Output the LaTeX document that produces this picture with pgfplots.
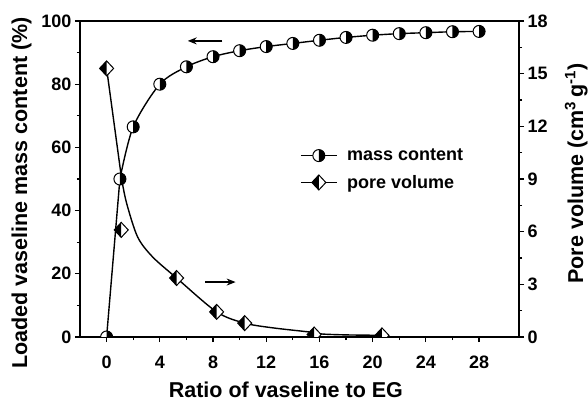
\documentclass[border=0pt]{standalone}
\usepackage{fontspec}
\setmainfont{Liberation Sans}
\usepackage{pgfplots}
\usepackage{pgfplotstable}
\pgfplotsset{compat=1.18}
\usetikzlibrary{arrows.meta}

% circle: left half white, right half black
\pgfdeclareplotmark{hcirc}{%
  \pgfscope
  \pgfsetfillcolor{white}%
  \pgfpathcircle{\pgfpointorigin}{\pgfplotmarksize}%
  \pgfusepathqfill
  \pgfsetfillcolor{black}%
  \pgfpathmoveto{\pgfqpoint{0pt}{\pgfplotmarksize}}%
  \pgfpatharc{90}{-90}{\pgfplotmarksize}%
  \pgfpathclose
  \pgfusepathqfill
  \pgfpathcircle{\pgfpointorigin}{\pgfplotmarksize}%
  \pgfusepathqstroke
  \endpgfscope
}
% diamond: left half black, right half white
\pgfdeclareplotmark{hdiam}{%
  \pgfscope
  \pgfsetfillcolor{white}%
  \pgfpathmoveto{\pgfqpoint{0pt}{1.07\pgfplotmarksize}}%
  \pgfpathlineto{\pgfqpoint{\pgfplotmarksize}{0pt}}%
  \pgfpathlineto{\pgfqpoint{0pt}{-1.07\pgfplotmarksize}}%
  \pgfpathlineto{\pgfqpoint{-\pgfplotmarksize}{0pt}}%
  \pgfpathclose
  \pgfusepathqfill
  \pgfsetfillcolor{black}%
  \pgfpathmoveto{\pgfqpoint{0pt}{1.07\pgfplotmarksize}}%
  \pgfpathlineto{\pgfqpoint{-\pgfplotmarksize}{0pt}}%
  \pgfpathlineto{\pgfqpoint{0pt}{-1.07\pgfplotmarksize}}%
  \pgfpathclose
  \pgfusepathqfill
  \pgfpathmoveto{\pgfqpoint{0pt}{1.07\pgfplotmarksize}}%
  \pgfpathlineto{\pgfqpoint{\pgfplotmarksize}{0pt}}%
  \pgfpathlineto{\pgfqpoint{0pt}{-1.07\pgfplotmarksize}}%
  \pgfpathlineto{\pgfqpoint{-\pgfplotmarksize}{0pt}}%
  \pgfpathclose
  \pgfusepathqstroke
  \endpgfscope
}

\pgfplotstableread{
x y
0 0
1 50.0
2 66.5
4 80.0
6 85.5
8 88.7
10 90.6
12 91.9
14 92.9
16 93.9
18 94.8
20 95.5
22 96.0
24 96.3
26 96.6
28 96.7
}\masstable

\pgfplotstableread{
x y
0 15.3
1.1 6.1
5.26 3.36
8.27 1.43
10.38 0.79
15.6 0.14
20.7 0.09
}\poretable

\pgfplotsset{
  common/.style={
    at={(0pt,0pt)}, anchor=south west,
    scale only axis, width=439pt, height=316pt,
    xmin=-2, xmax=31,
    tick align=outside,
    major tick length=5pt, minor tick length=3pt,
    tick style={line width=1.2pt, black},
    axis line style={line width=1.3pt},
    clip marker paths=true,
    /pgf/number format/assume math mode=true,
    tick label style={font=\bfseries\fontsize{18}{20}\selectfont, inner sep=0pt},
    label style={font=\bfseries\fontsize{21.5}{24}\selectfont},
  }
}

\begin{document}
\begin{tikzpicture}
\begin{axis}[common,
  ymin=0, ymax=100,
  xtick={0,4,...,28}, minor x tick num=1,
  ytick={0,20,...,100}, minor y tick num=1,
  xtick pos=bottom, ytick pos=left,
  xticklabel style={anchor=north, yshift=-14pt},
  yticklabel style={anchor=east, xshift=-3.5pt},
  xlabel={Ratio of vaseline to EG},
  xlabel style={at={(axis description cs:0.469,0)}, anchor=base, yshift=-60pt},
  ylabel={Loaded vaseline mass content (\%)},
  ylabel style={at={(axis description cs:-0.1207,0.456)}, anchor=base, rotate=0},
]
\addplot[line width=1.4pt, black, sharp plot] coordinates {(0,0) (1,50)};
\addplot[line width=1.4pt, black, smooth] table[x=x,y=y, skip coords between index={0}{1}] {\masstable};
\addplot[only marks, mark=hcirc, mark size=6pt, mark options={line width=1pt, black}] table[x=x,y=y] {\masstable};
\draw[line width=1.4pt, -{Stealth[length=9pt,width=7pt]}] (axis cs:8.7,93.7) -- (axis cs:6.1,93.7);
\end{axis}
\begin{axis}[common,
  ymin=0, ymax=18,
  hide x axis,
  ytick={0,3,...,18}, minor y tick num=1,
  ytick pos=right, yticklabel pos=right,
  yticklabel style={anchor=west, xshift=3.5pt},
  ylabel={Pore volume (cm\textsuperscript{3}\,g\textsuperscript{-1})},
  ylabel style={at={(axis description cs:1.1458,0.517)}, anchor=base, rotate=0},
  legend style={draw=none, fill=none, at={(axis description cs:0.501,0.602)}, anchor=north west,
    font=\bfseries\fontsize{18}{21}\selectfont, row sep=9pt, inner sep=0pt},
  legend cell align=left,
  legend image code/.code={\draw[#1, line width=1.4pt, mark repeat=2, mark phase=2] plot coordinates {(0pt,0pt) (18pt,0pt) (36pt,0pt)}; \path (44pt,0pt);},
]
\addlegendimage{black, mark=hcirc, mark size=6pt, mark options={line width=1pt}}
\addlegendentry{mass content}
\addlegendimage{black, mark=hdiam, mark size=7pt, mark options={line width=1pt}}
\addlegendentry{pore volume}
\addplot[line width=1.4pt, black, sharp plot, forget plot] coordinates {(0,15.3) (1.13,9.0)};
\addplot[line width=1.4pt, black, smooth, forget plot] coordinates {(1.13,9.0) (1.5,7.63) (2.33,5.70) (3.46,4.56) (5.26,3.36) (8.27,1.43) (10.38,0.79) (12.5,0.52) (15.3,0.28) (16.2,0.17) (18,0.12) (20,0.10) (20.7,0.08)};
\addplot[only marks, mark=hdiam, mark size=7pt, mark options={line width=1pt, black}, forget plot] table[x=x,y=y] {\poretable};
\draw[line width=1.4pt, -{Stealth[length=9pt,width=7pt]}] (axis cs:7.4,3.13) -- (axis cs:9.7,3.13);
\end{axis}
\pgfresetboundingbox
\path (-80pt,-64pt) rectangle (508pt,337pt);
\end{tikzpicture}
\end{document}
